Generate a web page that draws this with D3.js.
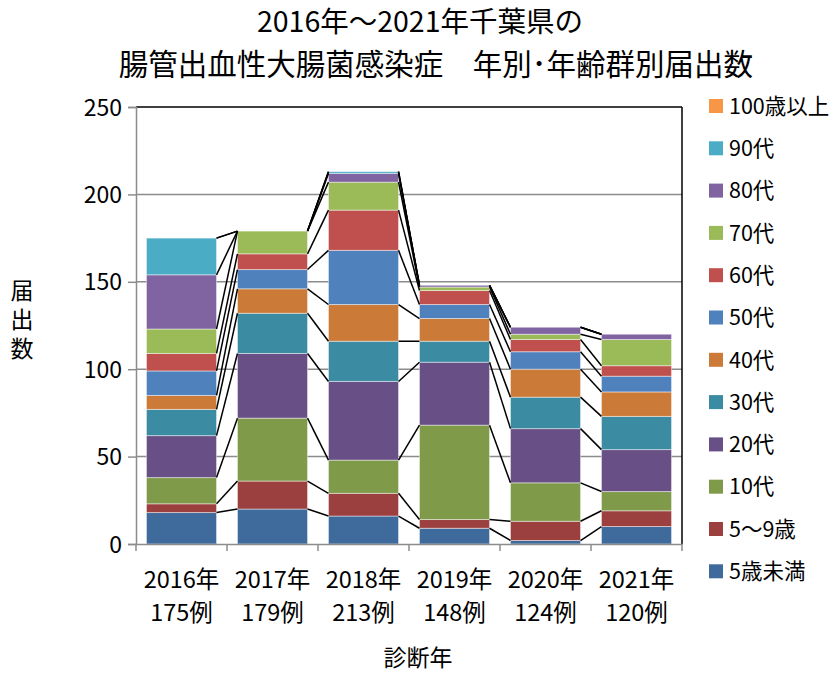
<!DOCTYPE html>
<html lang="ja">
<head>
<meta charset="UTF-8">
<script src="https://d3js.org/d3.v7.min.js"></script>
<title>腸管出血性大腸菌感染症 年別・年齢群別届出数</title>
<style>
  body { margin: 0; background: #fff; }
  text { font-family: "Noto Sans CJK JP", "Noto Sans", sans-serif; fill: #000; }
</style>
</head>
<body>
<svg id="vis" width="836" height="673"></svg>
<script>
// データ
var years = ["2016年", "2017年", "2018年", "2019年", "2020年", "2021年"];
var totals = ["175例", "179例", "213例", "148例", "124例", "120例"];
var ageGroups = ["5歳未満", "5～9歳", "10代", "20代", "30代", "40代", "50代", "60代", "70代", "80代", "90代", "100歳以上"];
var under5 = [18, 20, 16, 9, 2, 10];
var age5to9 = [5, 16, 13, 5, 11, 9];
var teens = [15, 36, 19, 54, 22, 11];
var twenties = [24, 37, 45, 36, 31, 24];
var thirties = [15, 23, 23, 12, 18, 19];
var forties = [8, 14, 21, 13, 16, 14];
var fifties = [14, 11, 31, 8, 10, 9];
var sixties = [10, 9, 23, 8, 7, 6];
var seventies = [14, 13, 16, 2, 3, 15];
var eighties = [31, 0, 5, 1, 4, 3];
var nineties = [21, 0, 1, 0, 0, 0];
var over100 = [0, 0, 0, 0, 0, 0];
var yTicks = [0, 50, 100, 150, 200, 250];
var colors = ["#3F6A9C", "#9C3F3F", "#7F9A48", "#684F86", "#3B8CA2", "#CC7A37",
              "#4F81BD", "#C0504D", "#9BBB59", "#8064A2", "#4BACC6", "#F79646"];

var seriesValues = [under5, age5to9, teens, twenties, thirties, forties,
                    fifties, sixties, seventies, eighties, nineties, over100];

// d3.stack 用のテーブル
var table = years.map(function(y, j) {
  var row = { year: y };
  ageGroups.forEach(function(g, i) { row[g] = seriesValues[i][j]; });
  return row;
});
var stacked = d3.stack().keys(ageGroups)(table);

var pLeft = 136, pRight = 682, pTop = 107, pBottom = 544;

var scaleX = d3.scaleBand().domain(years).range([pLeft, pRight]).paddingInner(0.23).paddingOuter(0.115);
var scaleY = d3.scaleLinear().domain([0, 250]).range([pBottom, pTop]);
var bw = scaleX.bandwidth();

var svg = d3.select("#vis");

// グリッド線
svg.append("g").selectAll("line").data(yTicks.slice(1, -1)).join("line")
  .attr("x1", pLeft).attr("x2", pRight)
  .attr("y1", function(d) { return scaleY(d); }).attr("y2", function(d) { return scaleY(d); })
  .attr("stroke", "#8c8c8c").attr("stroke-width", 1.5);

// 棒
var gBars = svg.append("g");
stacked.forEach(function(s, i) {
  gBars.append("g").attr("fill", colors[i])
    .selectAll("rect").data(s).join("rect")
    .attr("x", function(d) { return scaleX(d.data.year); })
    .attr("y", function(d) { return scaleY(d[1]); })
    .attr("width", bw)
    .attr("height", function(d) { return scaleY(d[0]) - scaleY(d[1]); })
    .attr("stroke", function(d) { return d[1] > d[0] ? "rgba(255,255,255,0.45)" : "none"; })
    .attr("stroke-width", 1);
});

// 区分線
var gLines = svg.append("g");
stacked.forEach(function(s) {
  for (var j = 0; j < s.length - 1; j++) {
    gLines.append("line")
      .attr("x1", scaleX(years[j]) + bw).attr("y1", scaleY(s[j][1]))
      .attr("x2", scaleX(years[j + 1])).attr("y2", scaleY(s[j + 1][1]))
      .attr("stroke", "#000").attr("stroke-width", 1.5);
  }
});

// 枠
svg.append("line").attr("x1", pLeft).attr("x2", pRight).attr("y1", pTop).attr("y2", pTop)
  .attr("stroke", "#000").attr("stroke-width", 1.5);
svg.append("line").attr("x1", pRight).attr("x2", pRight).attr("y1", pTop).attr("y2", pBottom)
  .attr("stroke", "#000").attr("stroke-width", 1.5);

// Y軸
var yAxis = d3.axisLeft(scaleY).tickValues(yTicks).tickSize(8).tickPadding(6);
var gy = svg.append("g").attr("transform", "translate(" + pLeft + ",0)").call(yAxis);
gy.selectAll("path, line").attr("stroke", "#8c8c8c").attr("stroke-width", 1.5);
gy.selectAll("text").style("font-size", "23px").attr("dy", "0.35em")
  .style("font-family", "'Noto Sans CJK JP', sans-serif");

// X軸
var xAxis = d3.axisBottom(scaleX).tickSize(0).tickFormat("");
var gx = svg.append("g").attr("transform", "translate(0," + pBottom + ")").call(xAxis);
gx.select("path").attr("stroke", "#8c8c8c").attr("stroke-width", 1.5);
var xTickPos = years.map(function(y) { return scaleX(y) - scaleX.step() * scaleX.paddingInner() / 2; });
xTickPos.push(pRight);
gx.selectAll("line.sep").data(xTickPos).join("line").attr("class", "sep")
  .attr("x1", function(d) { return d; }).attr("x2", function(d) { return d; })
  .attr("y1", 0).attr("y2", 7).attr("stroke", "#8c8c8c").attr("stroke-width", 1.5);

var gLabels = svg.append("g").attr("text-anchor", "middle").style("font-size", "23.5px");
years.forEach(function(y, j) {
  var cx = scaleX(y) + bw / 2;
  gLabels.append("text").attr("x", cx).attr("y", 588).text(y);
  gLabels.append("text").attr("x", cx).attr("y", 621).text(totals[j]);
});

svg.append("text").attr("x", 418).attr("y", 666).attr("text-anchor", "middle")
  .style("font-size", "23px").text("診断年");

// Y軸タイトル（縦書き）
svg.append("text").attr("x", 22).attr("y", 279)
  .style("writing-mode", "vertical-rl").style("letter-spacing", "6px")
  .style("font-size", "23px").text("届出数");

// タイトル
svg.append("text").attr("x", 420).attr("y", 32).attr("text-anchor", "middle")
  .style("font-size", "28.5px").text("2016年～2021年千葉県の");
svg.append("text").attr("x", 436).attr("y", 75).attr("text-anchor", "middle")
  .style("font-size", "29.5px").text("腸管出血性大腸菌感染症　年別･年齢群別届出数");

// 凡例（上から100歳以上）
var legend = svg.append("g");
var legendItems = ageGroups.slice().reverse();
legendItems.forEach(function(g, k) {
  var ci = ageGroups.length - 1 - k;
  var cy = 106 + k * 42.3;
  legend.append("rect").attr("x", 709).attr("y", cy - 7).attr("width", 14).attr("height", 14)
    .attr("fill", colors[ci]);
  legend.append("text").attr("x", 729).attr("y", cy).attr("dy", "0.36em")
    .style("font-size", "21.5px").text(g);
});
</script>
</body>
</html>
